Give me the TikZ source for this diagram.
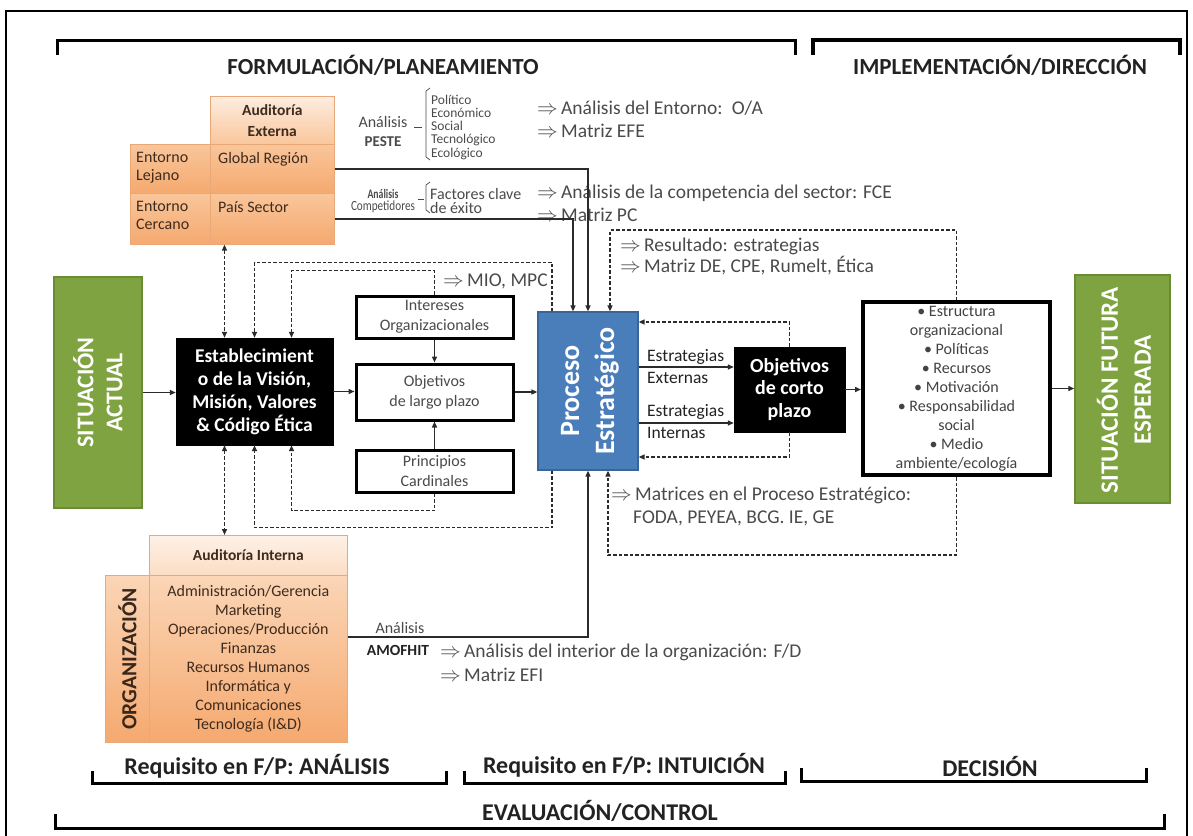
\documentclass[tikz,border=0pt]{standalone}
\usepackage{fontspec}
\usepackage{graphicx}
\setmainfont{Carlito}
\usetikzlibrary{arrows.meta,calc}

\definecolor{sitgreen}{HTML}{7EA340}
\definecolor{sitedge}{HTML}{6A8C35}
\definecolor{procblue}{HTML}{4A7EBB}
\definecolor{procedge}{HTML}{3A6598}
\definecolor{txtgray}{HTML}{4A4A4A}
\definecolor{headtxt}{HTML}{222222}
\definecolor{orlight}{HTML}{FDEDE0}
\definecolor{ormid}{HTML}{F9C69B}
\definecolor{ordark}{HTML}{F5A96F}
\definecolor{oredge}{HTML}{E9A877}
\definecolor{ortxt}{HTML}{3E2B1E}
\definecolor{linegray}{HTML}{2B2B2B}

\newcommand{\fsz}[2]{\fontsize{#1}{#2}\selectfont}
\newcommand{\imp}{$\Rightarrow$\,}

\begin{document}
\begin{tikzpicture}[x=1pt,y=-1pt,
  conn/.style={draw=linegray, line width=1.4pt},
  arr/.style={conn, -{Triangle[length=6pt,width=5pt]}},
  dsh/.style={draw=linegray, line width=1.4pt, dash pattern=on 3.5pt off 2pt},
  dsharr/.style={dsh, -{Triangle[length=6pt,width=5pt]}},
  dshdbl/.style={dsh, {Triangle[length=6pt,width=5pt]}-{Triangle[length=6pt,width=5pt]}},
  brk/.style={draw=black, line width=3pt},
  title/.style={text=headtxt, font=\bfseries\fsz{23}{27}, inner sep=0pt},
  btitle/.style={text=headtxt, font=\bfseries\fsz{24}{28}, inner sep=0pt},
  blk/.style={fill=black, draw=black, text=white, font=\bfseries\fsz{19.5}{23}, align=center, inner sep=0pt},
  wbox/.style={draw=black, line width=3pt, fill=white, text=txtgray, font=\fsz{16}{20}, align=center, inner sep=0pt},
  greenbox/.style={fill=sitgreen, draw=sitedge, line width=1.5pt, inner sep=0pt},
  greentxt/.style={text=white, font=\bfseries\fsz{24}{29}, align=center, inner sep=0pt, rotate=90},
  orhead/.style={draw=oredge, line width=0.6pt, top color=orlight, bottom color=ormid, anchor=north west, inner sep=0pt, text=ortxt, font=\bfseries\fsz{15.5}{21}, align=center},
  orcell/.style={draw=oredge, line width=0.6pt, top color=ormid, bottom color=ordark, anchor=north west, inner sep=0pt},
  ortext/.style={text=ortxt, font=\fsz{16}{18}, align=left, anchor=north west, inner sep=0pt},
  lbl/.style={text=txtgray, font=\fsz{19.5}{23}, anchor=west, inner sep=0pt},
  small/.style={text=txtgray, font=\fsz{16}{14}, inner sep=0pt},
  peste/.style={text=txtgray, font=\fsz{13.5}{13}, inner sep=0pt, anchor=west},
  strat/.style={text=headtxt, font=\fsz{17.5}{20}, anchor=west, inner sep=0pt}
]
\useasboundingbox (0,0) rectangle (1193,835);

% outer frame
\draw[line width=1.6pt, black] (6,850) -- (6,11) -- (1187,11) -- (1187,850);

% phase brackets and titles
\draw[brk] (57,55) -- (57,40) -- (795,40) -- (795,55);
\draw[brk, line width=3.5pt] (813,55) -- (813,40) -- (1180,40) -- (1180,55);
\node[title] (tform) at (383,65) {FORMULACIÓN/PLANEAMIENTO};
\node[title] (timpl) at (1000,65) {IMPLEMENTACIÓN/DIRECCIÓN};

\draw[brk] (92,771) -- (92,783) -- (446,783) -- (446,771);
\node[btitle] (tanal) at (257,766) {Requisito en F/P: ANÁLISIS};
\draw[brk] (464,771) -- (464,783) -- (785,783) -- (785,771);
\node[btitle] (tintu) at (624,765) {Requisito en F/P: INTUICIÓN};
\draw[brk] (801,768) -- (801,781) -- (1146,781) -- (1146,768);
\node[btitle] (tdeci) at (990,766) {DECISIÓN};
\draw[brk] (55,814) -- (55,828) -- (1164,828) -- (1164,814);
\node[btitle] (teval) at (600,811) {EVALUACIÓN/CONTROL};

% external audit
\node[orhead, minimum width=124, minimum height=48] (aeh) at (210,96) {Auditoría\\Externa};
\node[orcell, minimum width=80, minimum height=49] (lej) at (130,144) {};
\node[orcell, minimum width=124, minimum height=49] (glo) at (210,144) {};
\node[orcell, minimum width=80, minimum height=51] (cer) at (130,193) {};
\node[orcell, minimum width=124, minimum height=51] (ps) at (210,193) {};
\node[ortext] (tlej) at (136,152) {Entorno\\Lejano};
\node[ortext] (tglo) at (218,152) {Global Región};
\node[ortext] (tcer) at (136,201) {Entorno\\Cercano};
\node[ortext] (tps) at (218,201) {País Sector};

% PESTE analysis
\node[small] (pa1) at (383,122) {Análisis};
\node[small, font=\bfseries\fsz{15}{14}] (pa2) at (383,142) {PESTE};
\draw[txtgray, line width=0.7pt] (414,127) -- (422,127);
\draw[txtgray, line width=0.7pt] (430,88) -- (426,91) -- (426,157) -- (430,160);
\node[peste] (p1) at (431,100) {Político};
\node[peste] (p2) at (431,113) {Económico};
\node[peste] (p3) at (431,126) {Social};
\node[peste] (p4) at (431,140) {Tecnológico};
\node[peste] (p5) at (431,154) {Ecológico};
\node[lbl] (l1) at (537,108) {\imp Análisis del Entorno:\, O/A};
\node[lbl] (l2) at (537,131) {\imp Matriz EFE};

% competitor analysis
\node[small, font=\bfseries\fsz{13}{12}] (ca1) at (383,194) {\scalebox{0.75}[1]{Análisis}};
\node[small, font=\fsz{14}{12}] (ca2) at (383,207) {\scalebox{0.8}[1]{Competidores}};
\draw[txtgray, line width=0.7pt] (418,199) -- (424,199);
\draw[txtgray, line width=0.7pt] (430,182) -- (426,185) -- (426,210) -- (430,213);
\node[small, anchor=west] (f1) at (430,194) {Factores clave};
\node[small, anchor=west] (f2) at (430,208) {de éxito};
\node[lbl] (l3) at (537,193) {\imp Análisis de la competencia del sector: FCE};
\node[lbl] (l4) at (537,215) {\imp Matriz PC};

% main flow boxes
\node[greenbox, minimum width=88, minimum height=231] (sa) at (98,392.5) {};
\node[greentxt] (tsa) at (sa.center) {SITUACIÓN\\ACTUAL};

\node[blk, minimum width=157, minimum height=107] (est) at (254.5,391.5)
  {Establecimient\\o de la Visión,\\Misión, Valores\\\& Código Ética};

\node[wbox, minimum width=157, minimum height=42] (int) at (434.5,317) {Intereses\\Organizacionales};
\node[wbox, minimum width=157, minimum height=56] (olp) at (434.5,392) {Objetivos\\de largo plazo};
\node[wbox, minimum width=157, minimum height=42] (pc) at (434.5,471) {Principios\\Cardinales};

\node[fill=procblue, draw=procedge, line width=1.2pt, minimum width=100, minimum height=158, inner sep=0pt] (proc) at (588,391) {};
\node[text=white, font=\bfseries\fsz{28}{35}, align=center, rotate=90, inner sep=0pt] (tproc) at (590,391) {Proceso\\Estratégico};

\node[blk, font=\bfseries\fsz{20}{22.5}, minimum width=111, minimum height=85] (ocp) at (789.5,389.5) {Objetivos\\de corto\\plazo};

\node[wbox, line width=4pt, text=headtxt!85, font=\fsz{16}{19}, minimum width=187, minimum height=173] (impl) at (956.5,388.5)
  {\textbullet{} Estructura\\organizacional\\\textbullet{} Políticas\\\textbullet{} Recursos\\\textbullet{} Motivación\\\textbullet{} Responsabilidad\\social\\\textbullet{} Medio\\ambiente/ecología};

\node[greenbox, minimum width=95, minimum height=228] (sfe) at (1122.5,389) {};
\node[greentxt, font=\bfseries\fsz{25}{33}] (tsfe) at (1124,390) {SITUACIÓN FUTURA\\ESPERADA};

% internal audit
\node[orhead, minimum width=198, minimum height=40, top color=orlight!80!white, bottom color=orlight!60!ormid] (iah) at (149,535) {Auditoría Interna};
\node[orcell, minimum width=44, minimum height=167, top color=orlight!40!ormid] (org) at (105,575) {};
\node[orcell, minimum width=198, minimum height=167, top color=orlight!40!ormid, text=ortxt, font=\fsz{16}{19}, align=center] (il) at (149,575)
  {Administración/Gerencia\\Marketing\\Operaciones/Producción\\Finanzas\\Recursos Humanos\\Informática y\\Comunicaciones\\Tecnología (I\&D)};
\node[rotate=90, text=ortxt!90!black, font=\bfseries\fsz{21.5}{24}, inner sep=0pt] (torg) at (org.center) {ORGANIZACIÓN};

% labels near the strategic process
\node[lbl] (l5) at (620,246) {\imp Resultado: estrategias};
\node[lbl] (l6) at (620,266) {\imp Matriz DE, CPE, Rumelt, Ética};
\node[lbl] (l7) at (443,281) {\imp MIO, MPC};
\node[lbl] (l8) at (611,495) {\imp Matrices en el Proceso Estratégico:};
\node[lbl] (l9) at (633,518) {FODA, PEYEA, BCG. IE, GE};
\node[strat] (s1) at (647,357) {Estrategias};
\node[strat] (s2) at (647,378) {Externas};
\node[strat] (s3) at (647,412) {Estrategias};
\node[strat] (s4) at (647,433) {Internas};

% internal analysis labels
\node[small] (am1) at (400,628) {Análisis};
\node[small, font=\bfseries\fsz{15.5}{14}, text=headtxt] (am2) at (398,650) {AMOFHIT};
\node[lbl] (l10) at (440,652) {\imp Análisis del interior de la organización: F/D};
\node[lbl] (l11) at (440,675) {\imp Matriz EFI};

% helper points on box edges
\coordinate (pN1) at ($(proc.north)+(-36,0)$);
\coordinate (pN2) at ($(proc.north)+(22,0)$);
\coordinate (pN3) at ($(proc.north)+(-15,0)$);
\coordinate (pS1) at ($(proc.south)+(-36,0)$);
\coordinate (pS2) at ($(proc.south)+(20,0)$);
\coordinate (pE1) at ([yshift=24pt]proc.east);
\coordinate (pE2) at ([yshift=-32pt]proc.east);
\coordinate (pE3) at ([yshift=69pt]proc.east);
\coordinate (pE4) at ([yshift=-66pt]proc.east);
\coordinate (eN1) at ($(est.north)+(-30,0)$);
\coordinate (eN2) at ($(est.north)+(37,0)$);
\coordinate (eS1) at ($(est.south)+(-30,0)$);
\coordinate (eS2) at ($(est.south)+(37,0)$);
\coordinate (iE1) at ([yshift=22pt]il.east);

% solid connectors
\draw[arr] (sa.east) -- (sa.east -| est.west);
\draw[arr] (est.east) -- (est.east -| olp.west);
\draw[arr] (olp.east) -- (olp.east -| proc.west);
\draw[arr] (int.south) -- (olp.north);
\draw[arr] (pc.north) -- (olp.south);
\draw[arr] (glo.east) -| (proc.north);
\draw[arr] (ps.east) -| (pN3);
\draw[arr] (iE1) -| (proc.south);
\draw[arr] (pE1) -- (pE1 -| ocp.west);
\draw[arr] (pE2) -- (pE2 -| ocp.west);
\draw[arr] (ocp.east) -- (ocp.east -| impl.west);
\draw[arr] (impl.east) -- (impl.east -| sfe.west);

% dashed feedback connectors
\draw[dshdbl] (eN1 |- ps.south) -- (eN1);
\draw[dshdbl] (eS1) -- (eS1 |- iah.north);
\draw[dsharr] (pN1) -- ++(0,-49) -| (est.north);
\draw[dsharr] (int.north) -- ++(0,-24) -| (eN2);
\draw[dsharr] (pS1) -- ++(0,57) -| (est.south);
\draw[dsharr] (pc.south) -- ++(0,17) -| (eS2);
\draw[dsharr] (impl.north) -- ++(0,-70) -| (pN2);
\draw[dsharr] (impl.south) -- ++(0,78) -| (pS2);
\draw[dsharr] (ocp.north) |- (pE3);
\draw[dsharr] (ocp.south) |- (pE4);
\end{tikzpicture}
\end{document}
